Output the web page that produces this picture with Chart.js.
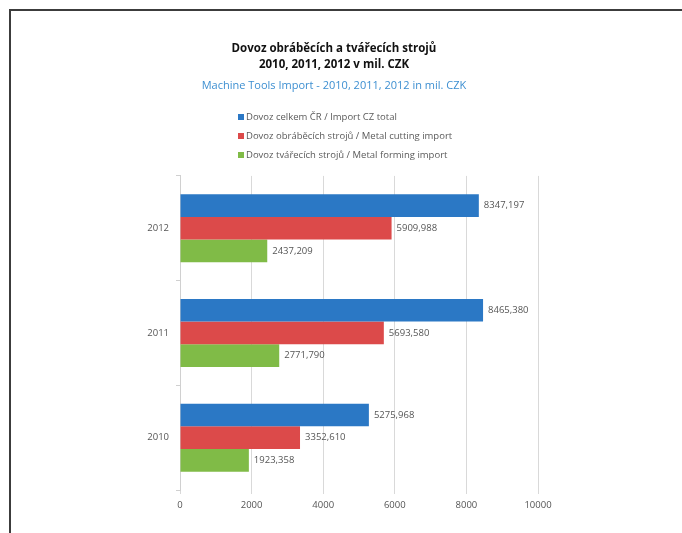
<!DOCTYPE html>
<html>
<head>
<meta charset="utf-8">
<script src="https://cdn.jsdelivr.net/npm/chart.js@4.4.0/dist/chart.umd.min.js"></script>
<style>
    html, body { margin: 0; padding: 0; background: #fff; }
    body { width: 682px; height: 533px; position: relative; overflow: hidden; }
    #frame {
        position: absolute; left: 9px; top: 9px; right: -4px; bottom: -4px;
        border-top: 2px solid #3c3c3c; border-left: 2px solid #3c3c3c;
    }
    #wrap { position: absolute; left: 0; top: 0; width: 682px; height: 533px; }
    #legend {
        position: absolute; left: 238px; top: 110px;
        font-family: "Open Sans", "Liberation Sans", sans-serif; font-size: 9.5px; color: #5a5a5a;
    }
    #legend .item { height: 19px; line-height: 14px; white-space: nowrap; }
    #legend .box { display: inline-block; width: 6px; height: 6px; margin-right: 2px; vertical-align: 0px; }
</style>
</head>
<body>
<div id="frame"></div>
<div id="wrap"><canvas id="chart" width="682" height="533"></canvas></div>
<div id="legend"></div>
<script>
// --- Datos ---
const years = ['2012', '2011', '2010'];
const seriesNames = [
    'Dovoz celkem ČR / Import CZ total',
    'Dovoz obráběcích strojů / Metal cutting import',
    'Dovoz tvářecích strojů / Metal forming import'
];
const totalImport = [8347.197, 8465.380, 5275.968];
const cuttingImport = [5909.988, 5693.580, 3352.610];
const formingImport = [2437.209, 2771.790, 1923.358];
const xTicks = [0, 2000, 4000, 6000, 8000, 10000];

const colors = ['#2b78c5', '#dc4a4a', '#80bb47'];
const FONT = '"Open Sans", "Liberation Sans", sans-serif';

// etiquetas al final de cada barra
const valueLabels = {
    id: 'valueLabels',
    afterDatasetsDraw(chart) {
        const ctx = chart.ctx;
        ctx.save();
        ctx.font = '9.5px ' + FONT;
        ctx.fillStyle = '#555';
        ctx.textBaseline = 'middle';
        ctx.textAlign = 'left';
        chart.data.datasets.forEach((ds, i) => {
            chart.getDatasetMeta(i).data.forEach((bar, j) => {
                const txt = ds.data[j].toFixed(3).replace('.', ',');
                ctx.fillText(txt, bar.x + 5, bar.y);
            });
        });
        ctx.restore();
    }
};

const datasets = [totalImport, cuttingImport, formingImport].map((data, i) => ({
    label: seriesNames[i],
    data: data,
    backgroundColor: colors[i],
    borderWidth: 0,
    barPercentage: 1,
    categoryPercentage: 0.65
}));

const chart = new Chart(document.getElementById('chart'), {
    type: 'bar',
    data: { labels: years, datasets: datasets },
    options: {
        indexAxis: 'y',
        responsive: false,
        animation: false,
        layout: { padding: { left: 130, right: 144, top: 41, bottom: 20 } },
        scales: {
            x: {
                min: 0,
                max: 10000,
                afterBuildTicks: (s) => { s.ticks = xTicks.map(v => ({ value: v })); },
                afterFit: (s) => { s.height = 23; },
                grid: { color: '#d9d9d9', drawTicks: true, tickLength: 4 },
                border: { display: false },
                ticks: {
                    color: '#555', font: { family: FONT, size: 9.5 }, padding: 6,
                    callback: (v) => String(v)
                }
            },
            y: {
                afterFit: (s) => { s.width = 50; },
                grid: { drawOnChartArea: false, color: '#d0d0d0', tickLength: 4 },
                border: { color: '#d0d0d0' },
                ticks: { color: '#555', font: { family: FONT, size: 9.5 }, padding: 7 }
            }
        },
        plugins: {
            legend: { display: false },
            tooltip: { enabled: false },
            title: {
                display: true,
                text: ['Dovoz obráběcích a tvářecích strojů', '2010, 2011, 2012 v mil. CZK'],
                color: '#111',
                font: { family: FONT, size: 11.5, weight: 'bold', lineHeight: 1.39 },
                padding: { top: 0, bottom: 0 }
            },
            subtitle: {
                display: true,
                text: 'Machine Tools Import - 2010, 2011, 2012 in mil. CZK',
                color: '#3d8fd1',
                font: { family: FONT, size: 11, lineHeight: 1.45 },
                padding: { top: 5, bottom: 82 }
            }
        }
    },
    plugins: [valueLabels]
});

// leyenda vertical en HTML
const legend = document.getElementById('legend');
chart.data.datasets.forEach(ds => {
    const div = document.createElement('div');
    div.className = 'item';
    div.innerHTML = `<span class="box" style="background:${ds.backgroundColor}"></span>${ds.label}`;
    legend.appendChild(div);
});
</script>
</body>
</html>
